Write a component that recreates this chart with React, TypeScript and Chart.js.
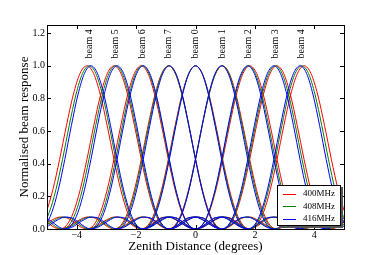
import React, { useEffect, useRef } from "react";
import { Chart, registerables } from "chart.js";

Chart.register(...registerables);

// ---- data ----
const frequencies = ["400MHz", "408MHz", "416MHz"];
const lineColors = ["#ff0000", "#008000", "#0000ff"];
const beamLabels = ["beam 4", "beam 5", "beam 6", "beam 7", "beam 0", "beam 1", "beam 2", "beam 3", "beam 4"];
// beam centres (zenith distance, degrees) per frequency
const centers400 = [-3.66, -2.74, -1.83, -0.91, 0, 0.91, 1.83, 2.74, 3.66];
const centers408 = [-3.58, -2.69, -1.79, -0.9, 0, 0.9, 1.79, 2.69, 3.58];
const centers416 = [-3.52, -2.64, -1.76, -0.88, 0, 0.88, 1.76, 2.64, 3.52];
// spacing between neighbouring beams (degrees) per frequency
const beamSpacing = [0.915, 0.897, 0.88];
// beam response against offset from the beam centre, in beam spacings
const profileOffset = [
  -4, -3.75, -3.5, -3.25, -3, -2.75, -2.5, -2.25, -2, -1.75, -1.5, -1.25, -1, -0.75, -0.5, -0.25,
  0, 0.25, 0.5, 0.75, 1, 1.25, 1.5, 1.75, 2, 2.25, 2.5, 2.75, 3, 3.25, 3.5, 3.75, 4,
];
const profileResponse = [
  0, 0.009, 0.033, 0.058, 0.073, 0.069, 0.045, 0.015, 0, 0.023, 0.101, 0.24, 0.427, 0.633, 0.821, 0.953,
  1, 0.953, 0.821, 0.633, 0.427, 0.24, 0.101, 0.023, 0, 0.015, 0.045, 0.069, 0.073, 0.058, 0.033, 0.009, 0,
];
const xTicks = [-4, -2, 0, 2, 4];
const yTicks = [0, 0.2, 0.4, 0.6, 0.8, 1.0, 1.2];
const labelBaseValue = 1.045;

const FONT = "'Liberation Serif', 'Times New Roman', serif";

function buildDatasets() {
  const centerSets = [centers400, centers408, centers416];
  const ds: any[] = [];
  // blue first so it is drawn on top
  for (let f = 2; f >= 0; f--) {
    const centers = centerSets[f];
    const s = beamSpacing[f];
    for (let b = 0; b < centers.length; b++) {
      const pts = profileOffset.map((t, i) => ({ x: centers[b] + s * t, y: profileResponse[i] }));
      ds.push({
        label: frequencies[f],
        data: pts,
        borderColor: lineColors[f],
        borderWidth: 1,
        pointRadius: 0,
        fill: false,
        cubicInterpolationMode: "monotone",
      });
    }
  }
  return ds;
}

const decorPlugin = {
  id: "decor",
  afterDatasetsDraw(chart: any) {
    const { ctx, chartArea: a, scales } = chart;
    const xs = scales.x;
    const ys = scales.y;
    ctx.save();
    // frame
    ctx.strokeStyle = "#000";
    ctx.lineWidth = 1;
    ctx.strokeRect(Math.round(a.left) + 0.5, Math.round(a.top) + 0.5, Math.round(a.right - a.left), Math.round(a.bottom - a.top));
    // inward ticks
    const tl = 4;
    ctx.beginPath();
    for (const v of xTicks) {
      const px = Math.round(xs.getPixelForValue(v)) + 0.5;
      ctx.moveTo(px, a.bottom);
      ctx.lineTo(px, a.bottom - tl);
      ctx.moveTo(px, a.top);
      ctx.lineTo(px, a.top + tl);
    }
    for (const v of yTicks) {
      const py = Math.round(ys.getPixelForValue(v)) + 0.5;
      ctx.moveTo(a.left, py);
      ctx.lineTo(a.left + tl, py);
      ctx.moveTo(a.right, py);
      ctx.lineTo(a.right - tl, py);
    }
    ctx.stroke();
    // beam labels
    ctx.fillStyle = "#000";
    ctx.font = `10px ${FONT}`;
    ctx.textAlign = "left";
    ctx.textBaseline = "middle";
    for (let i = 0; i < beamLabels.length; i++) {
      const px = xs.getPixelForValue(centers408[i]);
      const py = ys.getPixelForValue(labelBaseValue);
      ctx.save();
      ctx.translate(px, py);
      ctx.rotate(-Math.PI / 2);
      ctx.fillText(beamLabels[i], 0, 0);
      ctx.restore();
    }
    // legend
    const lx = 277, ly = 185, lw = 64, lh = 41;
    ctx.fillStyle = "#555";
    ctx.fillRect(lx + 2, ly + 2, lw, lh);
    ctx.fillStyle = "#fff";
    ctx.fillRect(lx, ly, lw, lh);
    ctx.strokeStyle = "#000";
    ctx.lineWidth = 1;
    ctx.strokeRect(lx + 0.5, ly + 0.5, lw - 1, lh - 1);
    ctx.font = `9px ${FONT}`;
    ctx.textBaseline = "middle";
    for (let i = 0; i < frequencies.length; i++) {
      const ry = ly + 8.5 + i * 12.5;
      ctx.strokeStyle = lineColors[i];
      ctx.beginPath();
      ctx.moveTo(283, Math.round(ry) + 0.5);
      ctx.lineTo(296, Math.round(ry) + 0.5);
      ctx.stroke();
      ctx.fillStyle = "#000";
      ctx.fillText(frequencies[i], 303, ry + 0.5);
    }
    // axis titles
    ctx.font = `13px ${FONT}`;
    ctx.textAlign = "center";
    ctx.textBaseline = "middle";
    ctx.fillText("Zenith Distance (degrees)", (a.left + a.right) / 2, 246.5);
    ctx.save();
    ctx.translate(25, (a.top + a.bottom) / 2);
    ctx.rotate(-Math.PI / 2);
    ctx.fillText("Normalised beam response", 0, 0);
    ctx.restore();
    ctx.restore();
  },
};

export default function App() {
  const ref = useRef<HTMLCanvasElement | null>(null);
  useEffect(() => {
    if (!ref.current) return;
    const chart = new Chart(ref.current, {
      type: "line",
      data: { datasets: buildDatasets() },
      options: {
        animation: false,
        responsive: false,
        events: [],
        layout: { padding: { left: 0, top: 25, right: 38, bottom: 0 } },
        plugins: { legend: { display: false }, tooltip: { enabled: false } },
        scales: {
          x: {
            type: "linear",
            min: -5,
            max: 5,
            grid: { display: false, drawTicks: false },
            border: { display: false },
            afterBuildTicks: (s: any) => {
              s.ticks = xTicks.map((v) => ({ value: v }));
            },
            afterFit: (s: any) => {
              s.height = 26;
            },
            ticks: {
              padding: 0,
              color: "#000",
              font: { family: FONT, size: 10 },
              maxRotation: 0,
              callback: (v: any) => (v < 0 ? "\u2212" + Math.abs(v) : String(v)),
            },
          },
          y: {
            type: "linear",
            min: 0,
            max: 1.25,
            grid: { display: false, drawTicks: false },
            border: { display: false },
            afterBuildTicks: (s: any) => {
              s.ticks = yTicks.map((v) => ({ value: v }));
            },
            afterFit: (s: any) => {
              s.width = 47;
            },
            ticks: {
              padding: 2,
              color: "#000",
              font: { family: FONT, size: 10 },
              callback: (v: any) => Number(v).toFixed(1),
            },
          },
        },
      },
      plugins: [decorPlugin],
    } as any);
    return () => chart.destroy();
  }, []);
  return (
    <div style={{ position: "fixed", left: 0, top: 0, width: 382, height: 255, background: "#fff" }}>
      <canvas ref={ref} width={382} height={255} style={{ display: "block" }} />
    </div>
  );
}
